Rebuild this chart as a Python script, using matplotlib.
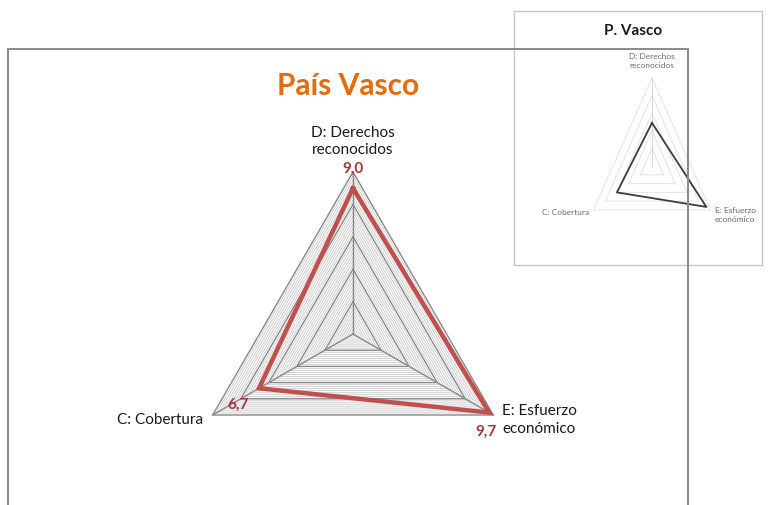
import numpy as np
import matplotlib
matplotlib.use('Agg')
import matplotlib.pyplot as plt
from matplotlib.patches import Rectangle

plt.rcParams['font.family'] = ['Lato', 'DejaVu Sans']

# data
categories = ['D: Derechos\nreconocidos', 'E: Esfuerzo\neconómico', 'C: Cobertura']
values = [9.0, 9.7, 6.7]
value_labels = ['9,0', '9,7', '6,7']
inset_values = [4.9, 9.3, 6.0]
angles_deg = [90, -30, 210]
r_max = 10
major_step = 2
minor_step = 0.25

W, H = 777, 505
fig = plt.figure(figsize=(W / 100, H / 100), dpi=100)

# outer frame of the main chart (pixels -> figure fraction)
fig.patches.append(Rectangle((8 / W, -0.05), (688 - 8) / W, (505 - 49) / H + 0.05,
                             transform=fig.transFigure, fill=False,
                             edgecolor='#8c8c8c', linewidth=1.5, zorder=0))

ang = np.deg2rad(angles_deg)


def tri(r):
    x = r * np.cos(ang)
    y = r * np.sin(ang)
    return np.append(x, x[0]), np.append(y, y[0])


# main radar axes: center at px (353, 334), 16.2 px per unit
S = 16.2
cx, cy = 353, 334
xl, xr, yb, yt = -13, 13, -8, 13
ax = fig.add_axes([(cx + xl * S) / W, (H - (cy - yb * S)) / H,
                   (xr - xl) * S / W, (yt - yb) * S / H])
ax.set_xlim(xl, xr)
ax.set_ylim(yb, yt)
ax.axis('off')

for r in np.arange(minor_step, r_max, minor_step):
    if abs(r / major_step - round(r / major_step)) < 1e-6:
        continue
    x, y = tri(r)
    ax.plot(x, y, color='#cfcfcf', lw=0.7, zorder=1)
for r in np.arange(major_step, r_max + 0.01, major_step):
    x, y = tri(r)
    ax.plot(x, y, color='#888888', lw=1.0, zorder=2)
for a in ang:
    ax.plot([0, r_max * np.cos(a)], [0, r_max * np.sin(a)], color='#888888', lw=1.0, zorder=2)

vx, vy = tri(np.array(values))
ax.plot(vx, vy, color='#c0504d', lw=3.2, zorder=3, solid_joinstyle='miter')

lab_offsets = [(0, 22), (6.5, -3.6), (-7, -3.6)]
lab_ha = ['center', 'left', 'right']
for i, c in enumerate(categories):
    ax.annotate(c, (r_max * np.cos(ang[i]), r_max * np.sin(ang[i])),
                xytext=lab_offsets[i], textcoords='offset points',
                ha=lab_ha[i], va='center', fontsize=11, color='#1a1a1a',
                linespacing=1.35)

val_offsets = [(0, 2), (-5, -12.4), (18.5, 7.2)]
for i, t in enumerate(value_labels):
    ax.annotate(t, (r_max * np.cos(ang[i]), r_max * np.sin(ang[i])),
                xytext=val_offsets[i], textcoords='offset points',
                ha='center', va='center', fontsize=11, fontweight='bold',
                color='#a0393b', zorder=4)

fig.text(348 / W, 1 - 86 / H, 'País Vasco', ha='center', va='center',
         fontsize=21.5, fontweight='bold', color='#e46c0a')

# inset thumbnail (top right)
ix0, iy0, ix1, iy1 = 514, 11, 762, 265
bg = fig.add_axes([ix0 / W, 1 - iy1 / H, (ix1 - ix0) / W, (iy1 - iy0) / H])
bg.set_xticks([])
bg.set_yticks([])
for s in bg.spines.values():
    s.set_color('#c8c8c8')
    s.set_linewidth(1.0)
bg.text(0.48, 0.92, 'P. Vasco', transform=bg.transAxes, ha='center', va='center',
        fontsize=11, fontweight='bold', color='#1a1a1a',
        family=['Liberation Sans Narrow', 'Lato'])

# inset radar: center px (652, 166), x 6.75 px/unit, y 8.8 px/unit
sx, sy = 6.75, 8.8
icx, icy = 652, 166
ixl, ixr, iyb, iyt = -13, 13, -7, 12
ia = fig.add_axes([(icx + ixl * sx) / W, (H - (icy - iyb * sy)) / H,
                   (ixr - ixl) * sx / W, (iyt - iyb) * sy / H])
ia.set_xlim(ixl, ixr)
ia.set_ylim(iyb, iyt)
ia.axis('off')
for r in np.arange(major_step, r_max + 0.01, major_step):
    x, y = tri(r)
    ia.plot(x, y, color='#e6e6e6', lw=0.8)
ia.plot([0, 0], [0, r_max], color='#d0d0d0', lw=0.6)
ivx, ivy = tri(np.array(inset_values))
ia.plot(ivx, ivy, color='#3c3c3c', lw=1.3)
in_offsets = [(0, 12), (3, -3.5), (-3, -1.5)]
for i, c in enumerate(categories):
    ia.annotate(c, (r_max * np.cos(ang[i]), r_max * np.sin(ang[i])),
                xytext=in_offsets[i], textcoords='offset points',
                ha=lab_ha[i], va='center', fontsize=6, color='#6e6e6e',
                linespacing=1.3, family=['Liberation Sans Narrow', 'Lato'])

fig.savefig('out.png', dpi=100)
